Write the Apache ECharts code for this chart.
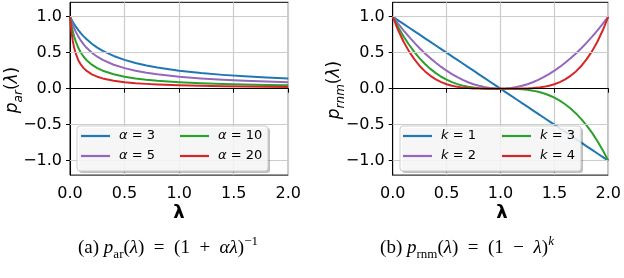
<!DOCTYPE html>
<html>
<head>
<meta charset="utf-8">
<script src="https://cdn.jsdelivr.net/npm/echarts@6/dist/echarts.min.js"></script>
<style>
html,body{margin:0;padding:0;background:#fff;}
#chart{width:624px;height:278px;}
</style>
</head>
<body>
<div id="chart"></div>
<script>
// ---- data ----
const lamAr = [0, 0.0125, 0.025, 0.0375, 0.05, 0.075, 0.1, 0.125, 0.15, 0.2, 0.25, 0.3, 0.4, 0.5, 0.6, 0.7, 0.8, 1.0, 1.2, 1.4, 1.6, 1.8, 2.0];
const arAlpha3  = [1, 0.964, 0.930, 0.899, 0.870, 0.816, 0.769, 0.727, 0.690, 0.625, 0.571, 0.526, 0.455, 0.400, 0.357, 0.323, 0.294, 0.250, 0.217, 0.192, 0.172, 0.156, 0.143];
const arAlpha5  = [1, 0.941, 0.889, 0.842, 0.800, 0.727, 0.667, 0.615, 0.571, 0.500, 0.444, 0.400, 0.333, 0.286, 0.250, 0.222, 0.200, 0.167, 0.143, 0.125, 0.111, 0.100, 0.091];
const arAlpha10 = [1, 0.889, 0.800, 0.727, 0.667, 0.571, 0.500, 0.444, 0.400, 0.333, 0.286, 0.250, 0.200, 0.167, 0.143, 0.125, 0.111, 0.091, 0.077, 0.067, 0.059, 0.053, 0.048];
const arAlpha20 = [1, 0.800, 0.667, 0.571, 0.500, 0.400, 0.333, 0.286, 0.250, 0.200, 0.167, 0.143, 0.111, 0.091, 0.077, 0.067, 0.059, 0.048, 0.040, 0.034, 0.030, 0.027, 0.024];

const lamRnm = [0, 0.05, 0.1, 0.15, 0.2, 0.25, 0.3, 0.35, 0.4, 0.45, 0.5, 0.55, 0.6, 0.65, 0.7, 0.75, 0.8, 0.85, 0.9, 0.95, 1.0,
                1.05, 1.1, 1.15, 1.2, 1.25, 1.3, 1.35, 1.4, 1.45, 1.5, 1.55, 1.6, 1.65, 1.7, 1.75, 1.8, 1.85, 1.9, 1.95, 2.0];
const rnmK1 = [1, 0.95, 0.9, 0.85, 0.8, 0.75, 0.7, 0.65, 0.6, 0.55, 0.5, 0.45, 0.4, 0.35, 0.3, 0.25, 0.2, 0.15, 0.1, 0.05, 0,
               -0.05, -0.1, -0.15, -0.2, -0.25, -0.3, -0.35, -0.4, -0.45, -0.5, -0.55, -0.6, -0.65, -0.7, -0.75, -0.8, -0.85, -0.9, -0.95, -1];
const rnmK2 = [1, 0.9025, 0.81, 0.7225, 0.64, 0.5625, 0.49, 0.4225, 0.36, 0.3025, 0.25, 0.2025, 0.16, 0.1225, 0.09, 0.0625, 0.04, 0.0225, 0.01, 0.0025, 0,
               0.0025, 0.01, 0.0225, 0.04, 0.0625, 0.09, 0.1225, 0.16, 0.2025, 0.25, 0.3025, 0.36, 0.4225, 0.49, 0.5625, 0.64, 0.7225, 0.81, 0.9025, 1];
const rnmK3 = [1, 0.857, 0.729, 0.614, 0.512, 0.422, 0.343, 0.275, 0.216, 0.166, 0.125, 0.091, 0.064, 0.043, 0.027, 0.0156, 0.008, 0.0034, 0.001, 0.0001, 0,
               -0.0001, -0.001, -0.0034, -0.008, -0.0156, -0.027, -0.043, -0.064, -0.091, -0.125, -0.166, -0.216, -0.275, -0.343, -0.422, -0.512, -0.614, -0.729, -0.857, -1];
const rnmK4 = [1, 0.815, 0.656, 0.522, 0.410, 0.316, 0.240, 0.179, 0.130, 0.0915, 0.0625, 0.041, 0.0256, 0.015, 0.0081, 0.0039, 0.0016, 0.0005, 0.0001, 0, 0,
               0, 0.0001, 0.0005, 0.0016, 0.0039, 0.0081, 0.015, 0.0256, 0.041, 0.0625, 0.0915, 0.130, 0.179, 0.240, 0.316, 0.410, 0.522, 0.656, 0.815, 1];

const arNames  = ['α = 3', 'α = 5', 'α = 10', 'α = 20'];
const rnmNames = ['k = 1', 'k = 2', 'k = 3', 'k = 4'];
const xTicks = [0, 0.5, 1, 1.5, 2];
const yTicks = [-1, -0.5, 0, 0.5, 1];
const colors = ['#1f77b4', '#9467bd', '#2ca02c', '#d62728'];

// ---- chart ----
const chart = echarts.init(document.getElementById('chart'), null, {renderer: 'canvas'});
const FONT = 'DejaVu Sans';
const SERIF = 'Liberation Serif';

function fmtTick(v) {
  return (v < 0 ? '\u2212' : '') + Math.abs(v).toFixed(1);
}
function makeX(gi) {
  return {
    type: 'value', gridIndex: gi, min: 0, max: 2, interval: 0.5,
    axisLine: {show: true, lineStyle: {color: '#000', width: 1}},
    axisTick: {show: true, length: 4, lineStyle: {color: '#000', width: 1}},
    axisLabel: {color: '#000', fontFamily: FONT, fontSize: 16, margin: 11, formatter: fmtTick},
    splitLine: {show: true, lineStyle: {color: '#cccccc', width: 1.2}}
  };
}
function makeY(gi) {
  return {
    type: 'value', gridIndex: gi, min: -1.2, max: 1.2,
    axisLine: {show: true, onZero: false, lineStyle: {color: '#000', width: 1}},
    axisTick: {show: true, length: 4, customValues: yTicks, lineStyle: {color: '#000', width: 1}},
    axisLabel: {color: '#000', fontFamily: FONT, fontSize: 16, margin: 8, customValues: yTicks, formatter: fmtTick},
    splitLine: {show: false}
  };
}
function gridSeries(gi) {
  const lines = yTicks.filter(v => v !== 0).map(v => ({yAxis: v, lineStyle: {color: '#cccccc', width: 1.2, type: 'solid'}}));
  lines.push({yAxis: 0, lineStyle: {color: '#000', width: 1, type: 'solid'}});
  return {
    type: 'line', xAxisIndex: gi, yAxisIndex: gi, data: [], z: 1, silent: true,
    markLine: {silent: true, symbol: ['none', 'none'], label: {show: false}, animation: false, data: lines}
  };
}
function curve(name, xs, ys, ci, gi) {
  return {
    name: name, type: 'line', xAxisIndex: gi, yAxisIndex: gi,
    data: xs.map((x, i) => [x, ys[i]]),
    showSymbol: false, symbol: 'none', smooth: false,
    color: colors[ci], lineStyle: {color: colors[ci], width: 2, join: 'round'}, z: 3, animation: false
  };
}
const legendRich = {
  i: {fontFamily: FONT, fontSize: 13, fontStyle: 'italic', color: '#000'},
  n: {fontFamily: FONT, fontSize: 13, color: '#000'}
};
function legendFmt(name) {
  const parts = name.split(' = ');
  return '{i|' + parts[0] + '}{n| = ' + parts[1] + '}';
}
function legendCol(names, left, top) {
  return {
    data: names, orient: 'vertical', left: left, top: top, padding: 0, itemGap: 4,
    icon: 'rect', itemWidth: 29, itemHeight: 2.2, z: 60,
    formatter: legendFmt,
    textStyle: {fontFamily: FONT, fontSize: 13, lineHeight: 16, padding: [0, 0, 0, 4], rich: legendRich},
    selectedMode: false
  };
}

const titleRich = {
  it: {fontFamily: FONT, fontSize: 17, fontStyle: 'italic', lineHeight: 24, verticalAlign: 'middle', fill: '#000'},
  up: {fontFamily: FONT, fontSize: 17, lineHeight: 24, verticalAlign: 'middle', fill: '#000'},
  sub: {fontFamily: FONT, fontSize: 12, fontStyle: 'italic', lineHeight: 12, verticalAlign: 'bottom', fill: '#000'}
};
const capRich = {
  r: {fontFamily: SERIF, fontSize: 19, lineHeight: 26, verticalAlign: 'middle', fill: '#000'},
  it: {fontFamily: SERIF, fontSize: 19, fontStyle: 'italic', lineHeight: 26, verticalAlign: 'middle', fill: '#000'},
  sub: {fontFamily: SERIF, fontSize: 13, lineHeight: 13, verticalAlign: 'bottom', fill: '#000'},
  sup: {fontFamily: SERIF, fontSize: 13, lineHeight: 13, verticalAlign: 'top', fill: '#000'},
  supi: {fontFamily: SERIF, fontSize: 13, fontStyle: 'italic', lineHeight: 13, verticalAlign: 'top', fill: '#000'}
};

function legendBox(x, y, w, h) {
  return [
    {type: 'rect', z: 50, shape: {x: x + 2, y: y + 2, width: w, height: h, r: 3}, style: {fill: 'rgba(0,0,0,0.25)'}},
    {type: 'rect', z: 51, shape: {x: x, y: y, width: w, height: h, r: 3}, style: {fill: 'rgba(255,255,255,0.85)', stroke: '#cccccc', lineWidth: 1}}
  ];
}

const option = {
  backgroundColor: '#fff',
  animation: false,
  grid: [
    {left: 70, top: 2.3, width: 218.3, height: 172.8, show: true, borderColor: '#000', borderWidth: 1, backgroundColor: 'transparent'},
    {left: 392.7, top: 2.3, width: 218.3, height: 172.8, show: true, borderColor: '#000', borderWidth: 1, backgroundColor: 'transparent'}
  ],
  xAxis: [makeX(0), makeX(1)],
  yAxis: [makeY(0), makeY(1)],
  legend: [
    legendCol([arNames[0], arNames[1]], 81, 128),
    legendCol([arNames[2], arNames[3]], 180, 128),
    legendCol([rnmNames[0], rnmNames[1]], 403, 128),
    legendCol([rnmNames[2], rnmNames[3]], 502, 128)
  ],
  series: [
    gridSeries(0), gridSeries(1),
    curve(arNames[0], lamAr, arAlpha3, 0, 0),
    curve(arNames[1], lamAr, arAlpha5, 1, 0),
    curve(arNames[2], lamAr, arAlpha10, 2, 0),
    curve(arNames[3], lamAr, arAlpha20, 3, 0),
    curve(rnmNames[0], lamRnm, rnmK1, 0, 1),
    curve(rnmNames[1], lamRnm, rnmK2, 1, 1),
    curve(rnmNames[2], lamRnm, rnmK3, 2, 1),
    curve(rnmNames[3], lamRnm, rnmK4, 3, 1)
  ],
  graphic: [].concat(
    legendBox(77, 126, 191, 45),
    legendBox(400, 126, 181, 45),
    [
      {type: 'text', z: 70, x: 13, y: 90, rotation: Math.PI / 2,
        style: {text: '{it|p}{sub|ar}{up|(}{it|λ}{up|)}', rich: titleRich, align: 'center', verticalAlign: 'middle'}},
      {type: 'text', z: 70, x: 335, y: 90, rotation: Math.PI / 2,
        style: {text: '{it|p}{sub|rnm}{up|(}{it|λ}{up|)}', rich: titleRich, align: 'center', verticalAlign: 'middle'}},
      {type: 'text', z: 70, x: 179, y: 213,
        style: {text: 'λ', fontFamily: FONT, fontSize: 18, fontWeight: 'bold', fill: '#000', align: 'center', verticalAlign: 'middle'}},
      {type: 'text', z: 70, x: 502, y: 213,
        style: {text: 'λ', fontFamily: FONT, fontSize: 18, fontWeight: 'bold', fill: '#000', align: 'center', verticalAlign: 'middle'}},
      {type: 'text', z: 70, x: 168, y: 248,
        style: {text: '{r|(a) }{it|p}{sub|ar}{r|(}{it|λ}{r|)  =  (1  +  }{it|αλ}{r|)}{sup|−1}', rich: capRich, align: 'center', verticalAlign: 'middle'}},
      {type: 'text', z: 70, x: 467, y: 248,
        style: {text: '{r|(b) }{it|p}{sub|rnm}{r|(}{it|λ}{r|)  =  (1  −  }{it|λ}{r|)}{supi|k}', rich: capRich, align: 'center', verticalAlign: 'middle'}}
    ]
  )
};
chart.setOption(option);
</script>
</body>
</html>
